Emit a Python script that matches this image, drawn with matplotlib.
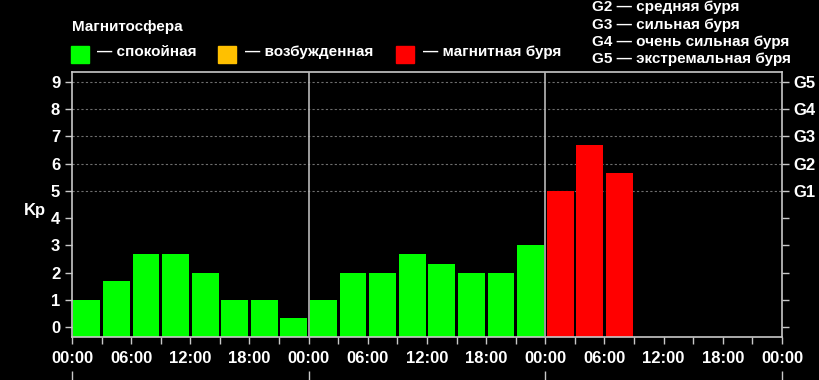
import matplotlib
matplotlib.use('Agg')
import matplotlib.pyplot as plt
from matplotlib.patches import Rectangle

# Kp index, 3-hour intervals starting at 00:00 of day 1
kp = [1.0, 1.67, 2.67, 2.67, 2.0, 1.0, 1.0, 0.33,
      1.0, 2.0, 2.0, 2.67, 2.33, 2.0, 2.0, 3.0,
      5.0, 6.67, 5.67]
hours = [3 * i for i in range(len(kp))]
tick_hours = list(range(0, 73, 3))
tick_labels = ['%02d:00' % (h % 24) if h % 6 == 0 else '' for h in tick_hours]
storm_labels = ['', '', '', '', '', 'G1', 'G2', 'G3', 'G4', 'G5']
legend_items = ['— спокойная', '— возбужденная', '— магнитная буря']
legend_colors = ['#00ff00', '#ffc000', '#ff0000']
g_lines = ['G2 — средняя буря', 'G3 — сильная буря',
           'G4 — очень сильная буря', 'G5 — экстремальная буря']

plt.rcParams['font.family'] = ['Liberation Sans', 'DejaVu Sans']
plt.rcParams['font.weight'] = 'bold'

W, H = 820, 380
fig = plt.figure(figsize=(W / 100, H / 100), dpi=100, facecolor='black')


def fx(px):
    return px / W


def fy(py):
    return 1 - py / H


ax = fig.add_axes([fx(72), fy(337), fx(782) - fx(72), fy(72) - fy(337)])
ax.set_facecolor('black')
ymin, ymax = -0.37, 9.37
ax.set_ylim(ymin, ymax)
ax.set_xlim(0, 72)


def bar_color(v):
    if v >= 5:
        return '#ff0000'
    if v >= 4:
        return '#ffc000'
    return '#00ff00'


ax.bar([h + 1.5 for h in hours], [v - ymin for v in kp], width=2.72, bottom=ymin,
       color=[bar_color(v) for v in kp], linewidth=0, zorder=2)

for y in range(5, 10):
    ax.axhline(y, color='#6e6e6e', lw=0.8, ls=(0, (2, 2)), zorder=1)
for d in (24, 48):
    ax.axvline(d, color='#b8b8b8', lw=1.2, zorder=3)

spine_c = '#c8c8c8'
for s in ax.spines.values():
    s.set_color(spine_c)
    s.set_linewidth(1.2)

ax.set_xticks(tick_hours)
ax.set_xticklabels(tick_labels)
ax.set_yticks(range(10))
ax.tick_params(colors=spine_c, labelcolor='white', labelsize=12, length=5, width=1)
ax.tick_params(axis='x', pad=5)

ax2 = ax.twinx()
ax2.set_ylim(ymin, ymax)
ax2.set_yticks(range(10))
ax2.set_yticklabels(storm_labels)
ax2.tick_params(colors=spine_c, labelcolor='white', labelsize=12, length=5, width=1)
for s in ax2.spines.values():
    s.set_visible(False)

sec = ax.secondary_xaxis(-0.13)
sec.set_xticks([0, 24, 48, 72])
sec.set_xticklabels(['', '', '', ''])
sec.spines['bottom'].set_visible(False)
sec.tick_params(colors=spine_c, length=12, width=1)

fig.text(fx(35), fy(211), 'Kp', color='white', fontsize=12, ha='center', va='center')

fig.text(fx(72), fy(27), 'Магнитосфера', color='white', fontsize=11,
         ha='left', va='center')
sq_x = [71, 218, 396]
txt_x = [97, 245, 423]
for sx, tx, lab, c in zip(sq_x, txt_x, legend_items, legend_colors):
    fig.patches.append(Rectangle((fx(sx), fy(63)), fx(18), fy(46) - fy(63),
                                 transform=fig.transFigure, color=c))
    fig.text(fx(tx), fy(52), lab, color='white', fontsize=11, ha='left', va='center')

for i, line in enumerate(g_lines):
    fig.text(fx(592), fy(7.5 + i * 17.3), line, color='white', fontsize=11,
             ha='left', va='center')

fig.savefig('out.png', dpi=100, facecolor='black')
